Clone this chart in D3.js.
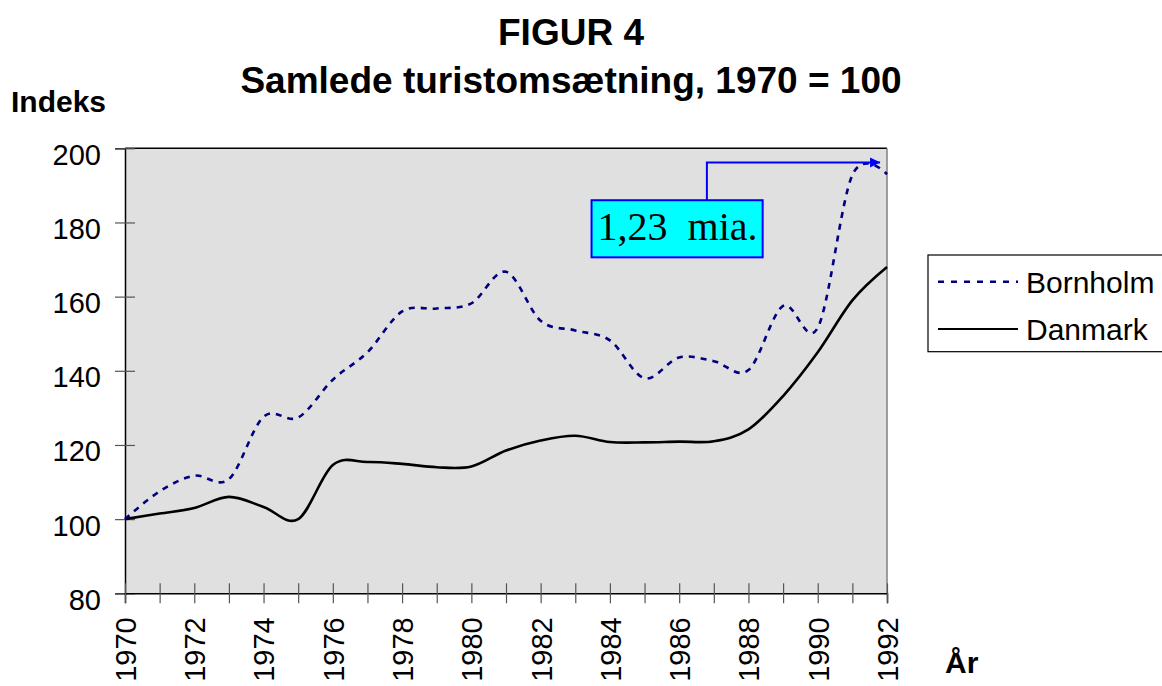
<!DOCTYPE html>
<html>
<head>
<meta charset="utf-8">
<script src="https://cdn.jsdelivr.net/npm/d3@7"></script>
<style>
  body { margin: 0; background: #ffffff; }
  svg { display: block; font-family: Arial, "Liberation Sans", sans-serif; }
  .tick text { font-size: 29px; fill: #000; }
</style>
</head>
<body>
<svg id="chart"></svg>
<script>
var years = [1970, 1971, 1972, 1973, 1974, 1975, 1976, 1977, 1978, 1979, 1980, 1981,
             1982, 1983, 1984, 1985, 1986, 1987, 1988, 1989, 1990, 1991, 1992]
var bornholm = [100, 107.5, 111.7, 110.8, 127.6, 127.4, 137.6, 145, 156, 156.8, 158.2, 166.7,
                153.5, 150.9, 148.2, 138, 143.6, 142.6, 140.2, 157.5, 151.6, 192.8, 193]
var danmark = [100, 101.5, 103, 106, 103.3, 100, 114.6, 115.4, 114.9, 114, 114.2, 118.5,
               121.2, 122.5, 120.8, 120.7, 120.9, 121, 124.2, 133.2, 145, 159, 168]
var seriesNames = ["Bornholm", "Danmark"]
var yTicks = [80, 100, 120, 140, 160, 180, 200]
var xTicks = years
var xLabels = [1970, 1972, 1974, 1976, 1978, 1980, 1982, 1984, 1986, 1988, 1990, 1992]
var titleLines = ["FIGUR 4", "Samlede turistomsætning, 1970 = 100"]
var noteText = "1,23  mia."

var screen = {width: 1162, height: 686}
var plot = {left: 125, right: 887, top: 148.3, bottom: 593.3}

var svg = d3.select("#chart")
    .attr("width", screen.width)
    .attr("height", screen.height)

var xScale = d3.scaleLinear()
    .domain([1970, 1992])
    .range([plot.left, plot.right])
var yScale = d3.scaleLinear()
    .domain([80, 200])
    .range([plot.bottom, plot.top])

// plot area
svg.append("rect")
    .attr("x", plot.left)
    .attr("y", plot.top)
    .attr("width", plot.right - plot.left)
    .attr("height", plot.bottom - plot.top)
    .attr("fill", "#e0e0e0")
svg.append("line")
    .attr("x1", plot.left).attr("x2", plot.right)
    .attr("y1", plot.top).attr("y2", plot.top)
    .attr("stroke", "#000").attr("stroke-width", 1.5)
svg.append("line")
    .attr("x1", plot.right).attr("x2", plot.right)
    .attr("y1", plot.top).attr("y2", plot.bottom)
    .attr("stroke", "#808080").attr("stroke-width", 1.5)

// axes
var yAxis = d3.axisLeft(yScale).tickValues(yTicks).tickSize(10).tickPadding(14)
var gy = svg.append("g")
    .attr("transform", "translate(" + plot.left + ",0)")
    .call(yAxis)
gy.select(".domain").attr("stroke", "#000").attr("stroke-width", 1.5)
gy.selectAll(".tick line").attr("x1", 10).attr("x2", -10).attr("stroke", "#555").attr("stroke-width", 1.2)
gy.selectAll(".tick text").attr("dy", "0.55em")

var xAxis = d3.axisBottom(xScale).tickValues(xTicks).tickSize(10)
    .tickFormat(function(d) { return xLabels.indexOf(d) >= 0 ? d : "" })
var gx = svg.append("g")
    .attr("transform", "translate(0," + plot.bottom + ")")
    .call(xAxis)
gx.select(".domain").attr("stroke", "#000").attr("stroke-width", 1.5)
gx.selectAll(".tick line").attr("y1", -10).attr("y2", 10).attr("stroke", "#555").attr("stroke-width", 1.2)
gx.selectAll(".tick text")
    .attr("transform", "rotate(-90)")
    .attr("text-anchor", "end")
    .attr("x", -24)
    .attr("y", 0)
    .attr("dy", "0.36em")

// lines
var line = function(values) {
    return d3.line()
        .x(function(d, i) { return xScale(years[i]) })
        .y(function(d) { return yScale(d) })
        .curve(d3.curveCatmullRom.alpha(0))(values)
}
svg.append("path")
    .attr("d", line(danmark))
    .attr("fill", "none")
    .attr("stroke", "#000")
    .attr("stroke-width", 2.6)
svg.append("path")
    .attr("d", line(bornholm))
    .attr("fill", "none")
    .attr("stroke", "#000080")
    .attr("stroke-width", 2.6)
    .attr("stroke-dasharray", "6,6")

// callout
var arrowY = yScale(196.2)
var stemX = xScale(1986.8)
var tipX = xScale(1991.8)
var boxTop = yScale(186)
var boxBottom = yScale(170.6)
var boxLeft = xScale(1983.47)
var boxRight = xScale(1988.41)
svg.append("defs").append("marker")
    .attr("id", "arrow")
    .attr("viewBox", "0 0 10 10")
    .attr("refX", 10).attr("refY", 5)
    .attr("markerWidth", 5).attr("markerHeight", 7)
    .attr("markerUnits", "strokeWidth")
    .attr("orient", "auto")
    .append("path")
    .attr("d", "M0,0L10,5L0,10Z")
    .attr("fill", "#0000ff")
svg.append("polyline")
    .attr("points", stemX + "," + boxTop + " " + stemX + "," + arrowY + " " + tipX + "," + arrowY)
    .attr("fill", "none")
    .attr("stroke", "#0000ff")
    .attr("stroke-width", 2)
    .attr("marker-end", "url(#arrow)")
svg.append("rect")
    .attr("x", boxLeft).attr("y", boxTop)
    .attr("width", boxRight - boxLeft)
    .attr("height", boxBottom - boxTop)
    .attr("fill", "#00ffff")
    .attr("stroke", "#0000ff")
    .attr("stroke-width", 2)
svg.append("text")
    .text(noteText)
    .attr("x", boxLeft + 6)
    .attr("y", boxBottom - 17)
    .attr("font-family", "'Liberation Serif', 'Times New Roman', serif")
    .attr("font-size", 40)
    .style("white-space", "pre")
    .attr("xml:space", "preserve")

// titles
var labels = svg.append("g")
labels.selectAll(".title")
    .data(titleLines)
    .enter()
    .append("text")
    .attr("class", "title")
    .text(function(d) { return d })
    .attr("x", 571)
    .attr("y", function(d, i) { return 45 + i * 48 })
    .attr("text-anchor", "middle")
    .attr("font-weight", "bold")
    .attr("font-size", 37)
labels.append("text")
    .text("Indeks")
    .attr("x", 11)
    .attr("y", 111.7)
    .attr("font-weight", "bold")
    .attr("font-size", 30)
labels.append("text")
    .text("År")
    .attr("x", 945)
    .attr("y", 673)
    .attr("font-weight", "bold")
    .attr("font-size", 30)

// legend
var legend = svg.append("g")
legend.append("rect")
    .attr("x", 928).attr("y", 255)
    .attr("width", 250).attr("height", 96.7)
    .attr("fill", "#fff")
    .attr("stroke", "#000")
    .attr("stroke-width", 1.2)
var legItems = legend.selectAll(".item")
    .data(seriesNames)
    .enter()
    .append("g")
    .attr("transform", function(d, i) { return "translate(938," + (281.7 + i * 47.3) + ")" })
legItems.append("line")
    .attr("x1", 0).attr("x2", 80)
    .attr("stroke", function(d, i) { return i == 0 ? "#000080" : "#000" })
    .attr("stroke-width", function(d, i) { return i == 0 ? 2.6 : 2 })
    .attr("stroke-dasharray", function(d, i) { return i == 0 ? "6,7" : null })
legItems.append("text")
    .text(function(d) { return d })
    .attr("x", 88)
    .attr("dy", "0.36em")
    .attr("font-size", 30)
</script>
</body>
</html>
